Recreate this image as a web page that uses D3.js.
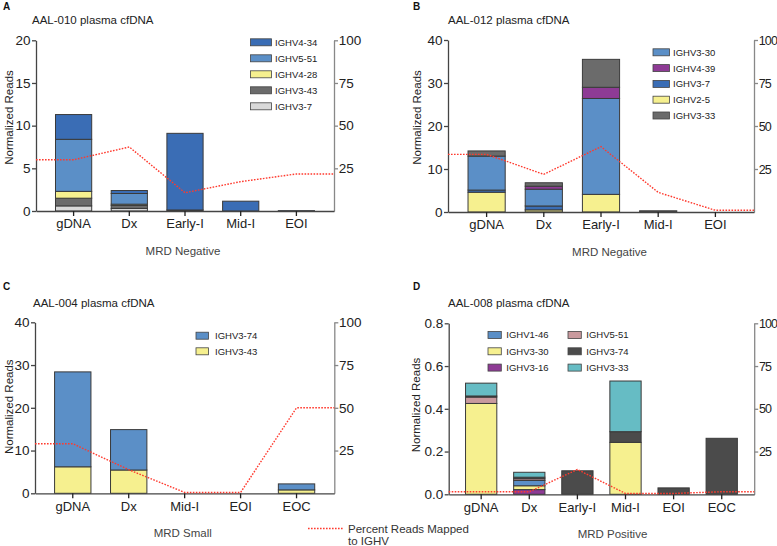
<!DOCTYPE html>
<html><head><meta charset="utf-8">
<script src="https://cdn.jsdelivr.net/npm/d3@7"></script>
<style>
body{margin:0;background:#fff;}
svg{display:block;font-family:"Liberation Sans",Arial,Helvetica,sans-serif;}
</style></head>
<body>
<svg id="chart" width="777" height="546"></svg>
<script>
// ---------------- DATA ----------------
// Panel A: AAL-010 plasma cfDNA
const catsA = ["gDNA","Dx","Early-I","Mid-I","EOI"];
const a_IGHV3_7  = [0.6, 0.3, 0,    0,    0];
const a_IGHV3_43 = [0.9, 0.35,0.12, 0,    0];
const a_IGHV4_28 = [0.8, 0.15,0,    0,    0];
const a_IGHV5_51 = [6.1, 1.25,0,    0,    0];
const a_IGHV4_34 = [2.9, 0.35,8.98, 1.15, 0.04];
const a_percent  = [30, 37.5, 10.7, 17.2, 21.7];
const ticksA = [0,5,10,15,20];

// Panel B: AAL-012 plasma cfDNA
const catsB = ["gDNA","Dx","Early-I","Mid-I","EOI"];
const b_IGHV2_5  = [4.6, 0.5, 4.1,  0,    0];
const b_IGHV3_7  = [0.5, 0.9, 0,    0,    0];
const b_IGHV3_30 = [7.9, 3.9, 22.3, 0,    0];
const b_IGHV4_39 = [0,   0.7, 2.6,  0,    0];
const b_IGHV3_33 = [1.2, 0.8, 6.5,  0.28, 0];
const b_percent  = [33.5, 21.9, 38, 11.4, 1];
const ticksB = [0,10,20,30,40];

// Panel C: AAL-004 plasma cfDNA
const catsC = ["gDNA","Dx","Mid-I","EOI","EOC"];
const c_IGHV3_43 = [6.2, 5.45, 0, 0, 0.8];
const c_IGHV3_74 = [22.2, 9.45, 0, 0, 1.4];
const c_percent  = [29, 13.8, 0.5, 0.5, 50];
const ticksC = [0,10,20,30,40];

// Panel D: AAL-008 plasma cfDNA
const catsD = ["gDNA","Dx","Early-I","Mid-I","EOI","EOC"];
const d_IGHV3_16 = [0,     0.022, 0,     0,     0,     0];
const d_IGHV3_30 = [0.425, 0.018, 0,     0.243, 0,     0];
const d_IGHV1_46 = [0,     0.025, 0,     0,     0,     0];
const d_IGHV5_51 = [0.03,  0.008, 0,     0,     0,     0];
const d_IGHV3_74 = [0.005, 0.007, 0.11,  0.05,  0.03,  0.262];
const d_IGHV3_33 = [0.06,  0.023, 0,     0.237, 0,     0];
const d_percent  = [1.5, 1.5, 14.5, 0.5, 0.5, 1.5];
const ticksD = [0,0.2,0.4,0.6,0.8];

const rightTicks = [25,50,75,100];

// ---------------- STYLE / LAYOUT ----------------
const COL = {
  dblue:"#3a6db5", lblue:"#5b8fc7", yellow:"#f6f08f", dgray:"#6b6b6b",
  lgray:"#d9d9d9", purple:"#8e3b95", pink:"#c99a9e", teal:"#66bcc4", vdgray:"#4b4b4b"
};

const panels = [
  {letter:"A", title:"AAL-010 plasma cfDNA", xTitle:"MRD Negative",
   cats:catsA, ticks:ticksA, ymax:20, fmt:d3.format("d"), pct:a_percent,
   stack:[["IGHV3-7",a_IGHV3_7,COL.lgray],["IGHV3-43",a_IGHV3_43,COL.dgray],["IGHV4-28",a_IGHV4_28,COL.yellow],["IGHV5-51",a_IGHV5_51,COL.lblue],["IGHV4-34",a_IGHV4_34,COL.dblue]],
   legend:[["IGHV4-34",0,0],["IGHV5-51",0,1],["IGHV4-28",0,2],["IGHV3-43",0,3],["IGHV3-7",0,4]],
   L:36, R:334, T:40.3, B:211, xTitleX:183, rFont:13.5, rLS:0,
   letterXY:[3,10], titleXY:[32,24], yTitleXY:[12.5,117.5],
   leg:{x:[250.5], w:21, tx:[275], y0:42.3, dy:16}},
  {letter:"B", title:"AAL-012 plasma cfDNA", xTitle:"MRD Negative",
   cats:catsB, ticks:ticksB, ymax:40, fmt:d3.format("d"), pct:b_percent,
   stack:[["IGHV2-5",b_IGHV2_5,COL.yellow],["IGHV3-7",b_IGHV3_7,COL.dblue],["IGHV3-30",b_IGHV3_30,COL.lblue],["IGHV4-39",b_IGHV4_39,COL.purple],["IGHV3-33",b_IGHV3_33,COL.dgray]],
   legend:[["IGHV3-30",0,0],["IGHV4-39",0,1],["IGHV3-7",0,2],["IGHV2-5",0,3],["IGHV3-33",0,4]],
   L:448, R:754, T:40, B:212, xTitleX:609.5, rFont:12.5, rLS:-0.9,
   letterXY:[413,10], titleXY:[448,24], yTitleXY:[420.5,117.5],
   leg:{x:[653], w:16.5, tx:[673], y0:52.3, dy:15.8}},
  {letter:"C", title:"AAL-004 plasma cfDNA", xTitle:"MRD Small",
   cats:catsC, ticks:ticksC, ymax:40, fmt:d3.format("d"), pct:c_percent,
   stack:[["IGHV3-43",c_IGHV3_43,COL.yellow],["IGHV3-74",c_IGHV3_74,COL.lblue]],
   legend:[["IGHV3-74",0,0],["IGHV3-43",0,1]],
   L:35, R:334.3, T:322.3, B:493.3, xTitleX:182.7, rFont:13.5, rLS:0,
   letterXY:[3,290], titleXY:[33,306.7], yTitleXY:[12.5,406.7],
   leg:{x:[196], w:12.5, tx:[215], y0:335.7, dy:15.6}},
  {letter:"D", title:"AAL-008 plasma cfDNA", xTitle:"MRD Positive",
   cats:catsD, ticks:ticksD, ymax:0.8, fmt:d3.format(".1f"), pct:d_percent,
   stack:[["IGHV3-16",d_IGHV3_16,COL.purple],["IGHV3-30",d_IGHV3_30,COL.yellow],["IGHV1-46",d_IGHV1_46,COL.lblue],["IGHV5-51",d_IGHV5_51,COL.pink],["IGHV3-74",d_IGHV3_74,COL.vdgray],["IGHV3-33",d_IGHV3_33,COL.teal]],
   legend:[["IGHV1-46",0,0],["IGHV3-30",0,1],["IGHV3-16",0,2],["IGHV5-51",1,0],["IGHV3-74",1,1],["IGHV3-33",1,2]],
   L:448.7, R:754.2, T:323.3, B:494.3, xTitleX:612.5, rFont:12.5, rLS:-0.9,
   letterXY:[413,290], titleXY:[448,306.7], yTitleXY:[419.5,405],
   leg:{x:[488,568], w:13.3, tx:[506.3,586.3], y0:335, dy:16.3}}
];

const svg = d3.select("#chart");
const RED = "#ff3a2e";

panels.forEach(p => {
  const g = svg.append("g");
  const x = d3.scaleBand().domain(p.cats).range([p.L, p.R]).paddingInner(0.35).paddingOuter(0.35);
  const y = d3.scaleLinear().domain([0, p.ymax]).range([p.B, p.T]);
  const y2 = d3.scaleLinear().domain([0, 100]).range([p.B, p.T]);

  // stacked bars
  const keys = p.stack.map(s => s[0]);
  const colorOf = Object.fromEntries(p.stack.map(s => [s[0], s[2]]));
  const rows = p.cats.map((c, i) => {
    const r = {cat: c};
    p.stack.forEach(s => r[s[0]] = s[1][i]);
    return r;
  });
  const series = d3.stack().keys(keys)(rows);
  series.forEach(s => {
    g.append("g").selectAll("rect").data(s.filter(d => d[1] - d[0] > 0)).join("rect")
      .attr("x", d => x(d.data.cat))
      .attr("width", x.bandwidth())
      .attr("y", d => y(d[1]))
      .attr("height", d => Math.max(0.8, y(d[0]) - y(d[1])))
      .attr("fill", colorOf[s.key])
      .attr("stroke", "#3a3a3a")
      .attr("stroke-width", 1);
  });

  // left axis
  const ya = g.append("g").attr("transform", `translate(${p.L},0)`)
    .call(d3.axisLeft(y).tickValues(p.ticks).tickFormat(p.fmt).tickSize(4).tickPadding(1.5).tickSizeOuter(0));
  ya.select(".domain").attr("stroke", "#444").attr("stroke-width", 1.3);
  ya.selectAll(".tick line").attr("stroke", "#444").attr("stroke-width", 1.3);
  ya.selectAll("text").attr("font-size", 13.5).attr("fill", "#222");

  // right axis
  const ra = g.append("g").attr("transform", `translate(${p.R},0)`)
    .call(d3.axisRight(y2).tickValues(rightTicks).tickSize(4).tickPadding(0.8).tickSizeOuter(0));
  ra.select(".domain").attr("stroke", "#888").attr("stroke-width", 1.3);
  ra.selectAll(".tick line").attr("stroke", "#888").attr("stroke-width", 1.3);
  ra.selectAll("text").attr("font-size", p.rFont).attr("letter-spacing", p.rLS).attr("fill", "#222");

  // bottom axis
  const xa = g.append("g").attr("transform", `translate(0,${p.B})`)
    .call(d3.axisBottom(x).tickSize(5).tickPadding(3).tickSizeOuter(0));
  xa.select(".domain").attr("stroke", "#444").attr("stroke-width", 1.3);
  xa.selectAll(".tick line").attr("stroke", "#222").attr("stroke-width", 1.3);
  xa.selectAll("text").attr("font-size", 13).attr("fill", "#222");

  // percent line (dotted red)
  const pts = [[p.L, p.pct[0]]]
    .concat(p.cats.map((c, i) => [x(c) + x.bandwidth() / 2, p.pct[i]]))
    .concat([[p.R, p.pct[p.pct.length - 1]]]);
  g.append("path").datum(pts)
    .attr("d", d3.line().x(d => d[0]).y(d => y2(d[1])))
    .attr("fill", "none").attr("stroke", RED).attr("stroke-width", 1.4)
    .attr("stroke-dasharray", "1.6,1.4");

  // texts
  g.append("text").attr("x", p.letterXY[0]).attr("y", p.letterXY[1])
    .attr("font-size", 10).attr("font-weight", "bold").attr("fill", "#111").text(p.letter);
  g.append("text").attr("x", p.titleXY[0]).attr("y", p.titleXY[1])
    .attr("font-size", 11.5).attr("fill", "#222").text(p.title);
  g.append("text").attr("transform", `translate(${p.yTitleXY[0]},${p.yTitleXY[1]}) rotate(-90)`)
    .attr("text-anchor", "middle").attr("font-size", 11.5).attr("fill", "#222").text("Normalized Reads");
  g.append("text").attr("x", p.xTitleX).attr("y", p.B + 44)
    .attr("text-anchor", "middle").attr("font-size", 11.5).attr("fill", "#444").text(p.xTitle);

  // legend
  p.legend.forEach(([name, col, row]) => {
    const cy = p.leg.y0 + row * p.leg.dy;
    g.append("rect").attr("x", p.leg.x[col]).attr("y", cy - 3.5)
      .attr("width", p.leg.w).attr("height", 7)
      .attr("fill", colorOf[name]).attr("stroke", "#444").attr("stroke-width", 0.8);
    g.append("text").attr("x", p.leg.tx[col]).attr("y", cy + 3.4)
      .attr("font-size", 9.5).attr("fill", "#222").text(name);
  });
});

// shared legend for percent line
svg.append("line").attr("x1", 308).attr("x2", 343).attr("y1", 528.5).attr("y2", 528.5)
  .attr("stroke", RED).attr("stroke-width", 1.4).attr("stroke-dasharray", "1.6,1.4");
svg.append("text").attr("x", 348).attr("y", 533).attr("font-size", 11.5).attr("fill", "#333").text("Percent Reads Mapped");
svg.append("text").attr("x", 348).attr("y", 544.5).attr("font-size", 11.5).attr("fill", "#333").text("to IGHV");
</script>
</body></html>
